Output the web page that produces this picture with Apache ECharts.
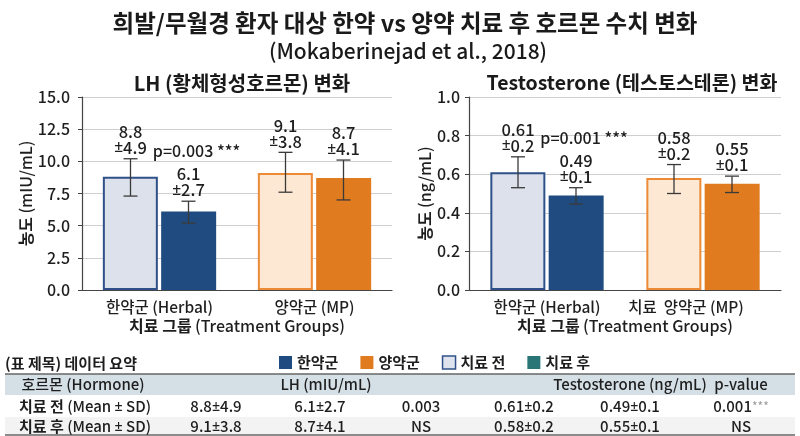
<!DOCTYPE html>
<html>
<head>
<meta charset="utf-8">
<script src="https://cdn.jsdelivr.net/npm/echarts@6/dist/echarts.min.js"></script>
<style>
  html, body { margin: 0; padding: 0; background: #fff; }
  #main { width: 800px; height: 436px; }
</style>
</head>
<body>
<div id="main"></div>
<script>
// 값은 그림에서 읽은 것
var groupsLH = ['한약군 (Herbal)', '양약군 (MP)'];
var groupsT = ['한약군 (Herbal)', '치료  양약군 (MP)'];

var lhBefore = [8.8, 9.1];
var lhBeforeSd = [4.9, 3.8];
var lhAfter = [6.1, 8.7];
var lhAfterSd = [2.7, 4.1];
// 오차막대는 그림에 그려진 길이대로 (low, high)
var lhBeforeLow = [7.3, 7.6], lhBeforeHigh = [10.2, 10.7];
var lhAfterLow = [5.2, 7.0], lhAfterHigh = [6.9, 10.1];
var lhP = ['0.003', 'NS'];

var tBefore = [0.61, 0.58];
var tBeforeSd = [0.2, 0.2];
var tAfter = [0.49, 0.55];
var tAfterSd = [0.1, 0.1];
var tBeforeLow = [0.53, 0.50], tBeforeHigh = [0.69, 0.65];
var tAfterLow = [0.445, 0.505], tAfterHigh = [0.53, 0.59];
var tP = ['0.001', 'NS'];
var tStars = ['***', ''];

var lhTicks = [0, 15, 2.5];
var tTicks = [0, 1, 0.2];

var rowLabels = ['치료 전', '치료 후'];

var FONT = '"Noto Sans CJK KR", "Noto Sans", sans-serif';
var PMFONT = '"Noto Sans", "DejaVu Sans", sans-serif';
var INK = '#1e1e1e';
var groupColor = ['#1f4b80', '#e07b1f'];
var beforeFill = ['#dce1ec', '#fde8d4'];
var beforeBorder = ['#2f5189', '#ec8a35'];

// ± 는 CJK 글꼴에서 전각이라 따로 좁은 글꼴로
function pmRich(size, weight) {
  return {
    n: { fontSize: size, fontWeight: weight, fontFamily: FONT, fill: INK, color: INK },
    p: { fontSize: size * 0.95, fontWeight: weight, fontFamily: PMFONT, fill: INK, color: INK }
  };
}
function pm(a, b) { return '{n|' + a + '}{p|±}{n|' + b + '}'; }

var myChart = echarts.init(document.getElementById('main'));

function errSeries(axis, side, lows, highs, means, sds, pTexts) {
  return {
    type: 'custom',
    xAxisIndex: axis,
    yAxisIndex: axis,
    z: 5,
    data: lows.map(function (l, i) { return [i, l, highs[i]]; }),
    renderItem: function (params, api) {
      var i = params.dataIndex;
      var lo = api.coord([api.value(0), api.value(1)]);
      var hi = api.coord([api.value(0), api.value(2)]);
      var x = lo[0] + side * 29;
      var cap = 7;
      var ls = { stroke: '#3a3a3a', lineWidth: 1.3 };
      var kids = [
        { type: 'line', shape: { x1: x, y1: lo[1], x2: x, y2: hi[1] }, style: ls },
        { type: 'line', shape: { x1: x - cap, y1: lo[1], x2: x + cap, y2: lo[1] }, style: ls },
        { type: 'line', shape: { x1: x - cap, y1: hi[1], x2: x + cap, y2: hi[1] }, style: ls },
        {
          type: 'text', x: x, y: hi[1] - 3,
          style: {
            text: '{n|' + means[i] + '}\n{p|±}{n|' + sds[i] + '}',
            align: 'center', verticalAlign: 'bottom',
            lineHeight: 16, rich: pmRich(16.5, 500)
          }
        }
      ];
      if (pTexts && pTexts[i]) {
        kids.push({
          type: 'text', x: x + 8, y: hi[1] - 50,
          style: {
            text: pTexts[i], align: 'center', verticalAlign: 'middle',
            fontSize: 16, fontWeight: 500, fontFamily: FONT, fill: INK
          }
        });
      }
      return { type: 'group', children: kids };
    }
  };
}

function barData(vals, after) {
  return vals.map(function (v, i) {
    return {
      value: v,
      itemStyle: after
        ? { color: groupColor[i] }
        : { color: beforeFill[i], borderColor: beforeBorder[i], borderWidth: 2 }
    };
  });
}

function xAxisFor(idx, cats) {
  return {
    type: 'category', gridIndex: idx, data: cats,
    axisTick: { show: false },
    axisLine: { lineStyle: { color: '#444', width: 1.2 } },
    axisLabel: { fontSize: 15.5, fontWeight: 500, color: INK, fontFamily: FONT, margin: 9 },
    name: '{b|치료 그룹} {n|(Treatment Groups)}',
    nameLocation: 'middle', nameGap: 28,
    nameTextStyle: {
      rich: {
        b: { fontSize: 16, fontWeight: 'bold', fontFamily: FONT, color: INK },
        n: { fontSize: 16, fontWeight: 500, fontFamily: FONT, color: INK }
      }
    }
  };
}

function yAxisFor(idx, ticks, unit, gap, margin) {
  return {
    type: 'value', gridIndex: idx,
    min: ticks[0], max: ticks[1], interval: ticks[2],
    axisLine: { show: true, lineStyle: { color: '#444', width: 1.2 } },
    axisTick: { show: true, length: 4, lineStyle: { color: '#444' } },
    splitLine: { lineStyle: { color: '#cfcfcf' } },
    axisLabel: {
      fontSize: 16, fontWeight: 500, color: INK, fontFamily: FONT, margin: margin,
      formatter: function (v) { return v.toFixed(1); }
    },
    name: '{b|농도} {n|(' + unit + ')}',
    nameLocation: 'middle', nameRotate: 90, nameGap: gap,
    nameTextStyle: {
      rich: {
        b: { fontSize: 16, fontWeight: 'bold', fontFamily: FONT, color: INK },
        n: { fontSize: 16, fontWeight: 500, fontFamily: FONT, color: INK }
      }
    }
  };
}

// 표
var colX = [216, 320, 421, 524, 630, 741];
var rowY = [406.5, 426.5];
var tableKids = [
  { type: 'rect', shape: { x: 5, y: 374, width: 790, height: 21 }, style: { fill: '#d5dfe6' } },
  { type: 'rect', shape: { x: 5, y: 417, width: 790, height: 18 }, style: { fill: '#f3f3f3' } },
  { type: 'line', shape: { x1: 5, y1: 374, x2: 795, y2: 374 }, style: { stroke: '#666', lineWidth: 1.5 } },
  { type: 'line', shape: { x1: 5, y1: 435, x2: 795, y2: 435 }, style: { stroke: '#666', lineWidth: 1.5 } }
];
function cell(txt, x, y, extra) {
  var st = {
    text: txt, align: 'center', verticalAlign: 'middle',
    fontSize: 15, fontWeight: 500, fontFamily: FONT, fill: INK
  };
  for (var k in extra) st[k] = extra[k];
  return { type: 'text', x: x, y: y, style: st };
}
tableKids.push(cell('(표 제목) 데이터 요약', 5, 363, { align: 'left', fontWeight: 'bold' }));
tableKids.push(cell('호르몬 (Hormone)', 83, 384.5, {}));
tableKids.push(cell('LH (mIU/mL)', 326, 384.5, {}));
tableKids.push(cell('Testosterone (ng/mL)', 630, 384.5, {}));
tableKids.push(cell('p-value', 741, 384.5, {}));
var cellRich = pmRich(15, 500);
for (var r = 0; r < 2; r++) {
  var vals = [
    pm(lhBefore[r], lhBeforeSd[r]),
    pm(lhAfter[r], lhAfterSd[r]),
    '{n|' + lhP[r] + '}',
    pm(tBefore[r], tBeforeSd[r]),
    pm(tAfter[r], tAfterSd[r])
  ];
  tableKids.push(cell('{b|' + rowLabels[r] + '} {n|(Mean }{p|±}{n| SD)}', 85, rowY[r], {
    rich: {
      b: { fontSize: 15, fontWeight: 'bold', fontFamily: FONT, fill: INK },
      n: cellRich.n, p: cellRich.p
    }
  }));
  for (var c = 0; c < vals.length; c++) {
    tableKids.push(cell(vals[c], colX[c], rowY[r], { rich: cellRich }));
  }
  tableKids.push(cell('{n|' + tP[r] + '}{s|' + tStars[r] + '}', colX[5], rowY[r], {
    rich: {
      n: cellRich.n,
      s: { fontSize: 12, fontFamily: FONT, fill: '#9a9a9a' }
    }
  }));
}

var option = {
  backgroundColor: '#fff',
  animation: false,
  title: [
    {
      text: '희발/무월경 환자 대상 한약 vs 양약 치료 후 호르몬 수치 변화',
      left: 400, top: 6, textAlign: 'center',
      textStyle: { fontSize: 23.5, fontWeight: 'bold', fontFamily: FONT, color: '#1a1a1a' }
    },
    {
      text: '(Mokaberinejad et al., 2018)',
      left: 403, top: 36, textAlign: 'center',
      textStyle: { fontSize: 21, fontWeight: 500, fontFamily: FONT, color: '#1a1a1a' }
    },
    {
      text: 'LH (황체형성호르몬) 변화',
      left: 237, top: 68, textAlign: 'center',
      textStyle: { fontSize: 20, fontWeight: 'bold', fontFamily: FONT, color: '#1a1a1a' }
    },
    {
      text: 'Testosterone (테스토스테론) 변화',
      left: 627, top: 68, textAlign: 'center',
      textStyle: { fontSize: 19.5, fontWeight: 'bold', fontFamily: FONT, color: '#1a1a1a' }
    }
  ],
  legend: {
    left: 274, top: 350,
    itemWidth: 13, itemHeight: 13, itemGap: 22,
    icon: 'rect',
    textStyle: { fontSize: 15, fontWeight: 'bold', fontFamily: FONT, color: INK },
    data: [
      { name: '한약군', itemStyle: { color: groupColor[0] } },
      { name: '양약군', itemStyle: { color: groupColor[1] } },
      { name: '치료 전', itemStyle: { color: '#dfe3ee', borderColor: '#2f5189', borderWidth: 1.5 } },
      { name: '치료 후', itemStyle: { color: '#2a7575' } }
    ]
  },
  grid: [
    { left: 82, width: 310, top: 97, height: 193 },
    { left: 469, width: 312, top: 97, height: 193 }
  ],
  xAxis: [
    xAxisFor(0, groupsLH),
    xAxisFor(1, groupsT.map(function (g, i) {
      return i === 1 ? { value: g, textStyle: { padding: [0, 34, 0, 0] } } : g;
    }))
  ],
  yAxis: [
    yAxisFor(0, lhTicks, 'mIU/mL', 46, 12),
    yAxisFor(1, tTicks, 'ng/mL', 36, 9)
  ],
  series: [
    { name: '치료 전', type: 'bar', xAxisIndex: 0, yAxisIndex: 0, barWidth: 55, barGap: '6%', data: barData(lhBefore, false) },
    { name: '치료 후', type: 'bar', xAxisIndex: 0, yAxisIndex: 0, barWidth: 55, barGap: '6%', data: barData(lhAfter, true) },
    { name: '치료 전', type: 'bar', xAxisIndex: 1, yAxisIndex: 1, barWidth: 55, barGap: '6%', data: barData(tBefore, false) },
    { name: '치료 후', type: 'bar', xAxisIndex: 1, yAxisIndex: 1, barWidth: 55, barGap: '6%', data: barData(tAfter, true) },
    { name: '한약군', type: 'line', data: [] },
    { name: '양약군', type: 'line', data: [] },
    errSeries(0, -1, lhBeforeLow, lhBeforeHigh, lhBefore, lhBeforeSd, null),
    errSeries(0, 1, lhAfterLow, lhAfterHigh, lhAfter, lhAfterSd, ['p=' + lhP[0] + ' ***', '']),
    errSeries(1, -1, tBeforeLow, tBeforeHigh, tBefore, tBeforeSd, null),
    errSeries(1, 1, tAfterLow, tAfterHigh, tAfter, tAfterSd, ['p=' + tP[0] + ' ' + tStars[0], ''])
  ],
  graphic: [{ type: 'group', children: tableKids }]
};

myChart.setOption(option);
window.addEventListener('resize', function () {
  myChart.resize();
});
</script>
</body>
</html>
